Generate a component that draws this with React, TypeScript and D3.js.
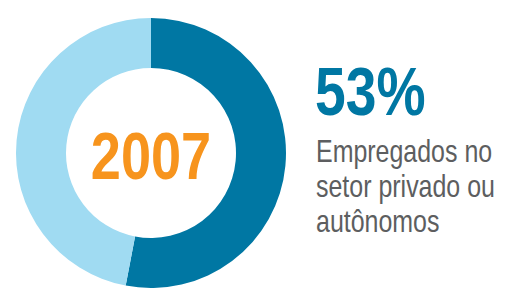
import * as d3 from "d3";
import { useEffect, useRef } from "react";

const year = "2007";
const slices = ["Empregados no setor privado ou autônomos", "Outros"];
const values = [53, 47];
const colors = ["#0077a3", "#a0dbf2"];
const headline = "53%";
const labelLines = ["Empregados no", "setor privado ou", "autônomos"];

export default function App() {
  const ref = useRef<SVGSVGElement | null>(null);

  useEffect(() => {
    const svg = d3.select(ref.current);
    svg.selectAll("*").remove();

    const width = 505;
    const height = 288;
    svg.attr("width", width).attr("height", height);

    const cx = 151;
    const cy = 153;
    const outer = 135;
    const inner = 85;

    const pie = d3
      .pie<number>()
      .sort(null)
      .value((d) => d);
    const arc = d3.arc<d3.PieArcDatum<number>>().innerRadius(inner).outerRadius(outer);

    const g = svg.append("g").attr("transform", `translate(${cx},${cy})`);
    g.selectAll("path")
      .data(pie(values))
      .enter()
      .append("path")
      .attr("d", arc)
      .attr("fill", (_, i) => colors[i])
      .append("title")
      .text((_, i) => slices[i]);

    // year in the middle
    g.append("text")
      .attr("transform", "translate(0,26) scale(0.82,1)")
      .attr("text-anchor", "middle")
      .style("font-family", "Liberation Sans, Arial, sans-serif")
      .style("font-weight", "bold")
      .style("font-size", "66px")
      .style("fill", "#f7941d")
      .text(year);

    // right side label
    svg
      .append("text")
      .attr("transform", "translate(315,115) scale(0.8,1)")
      .style("font-family", "Liberation Sans, Arial, sans-serif")
      .style("font-weight", "bold")
      .style("font-size", "69px")
      .style("fill", "#0077a3")
      .text(headline);

    labelLines.forEach((line, i) => {
      svg
        .append("text")
        .attr("transform", `translate(316,${162 + i * 35}) scale(0.78,1)`)
        .style("font-family", "Liberation Sans, Arial, sans-serif")
        .style("font-size", "32px")
        .style("fill", "#5d5e60")
        .text(line);
    });
  }, []);

  return (
    <svg
      ref={ref}
      style={{ position: "absolute", left: 0, top: 0, background: "#fff" }}
    ></svg>
  );
}
